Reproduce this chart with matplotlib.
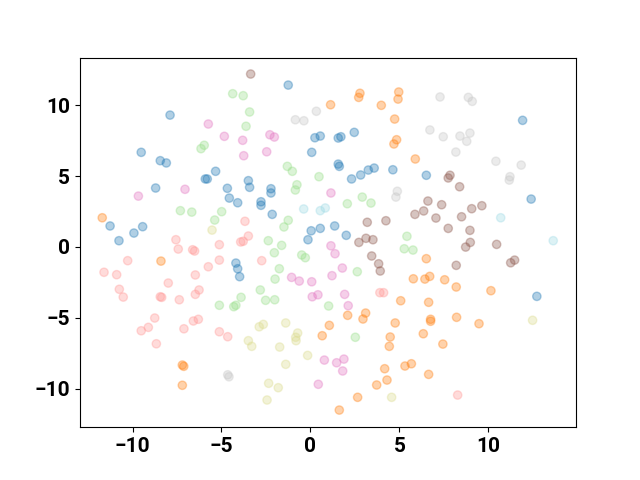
import numpy as np
import matplotlib
matplotlib.use('Agg')
import matplotlib.pyplot as plt

plt.rcParams['font.family'] = ['Roboto', 'DejaVu Sans']
plt.rcParams['font.weight'] = 'bold'

# pontos por grupo
x_blue = [-7.89, -9.51, -8.44, -8.10, -5.33, -5.91, -5.80, -8.70, -4.67, -4.56, -4.09, -11.26,
          -9.43, -9.92, -10.76, -1.25, 0.25, 0.55, 1.56, 1.71, 2.46, 0.07, 1.56, 1.62, 2.31, 2.82,
          3.25, 3.58, 4.63, -3.49, -3.42, -2.22, -2.22, -2.78, -2.78, -2.15, 0.04, 0.55, 1.36,
          -0.14, 2.01, 11.92, 6.51, 12.40, -4.19, -4.09, -3.98, 12.72]
y_blue = [9.31, 6.68, 6.09, 5.93, 5.34, 4.80, 4.80, 4.16, 4.14, 3.45, 3.12, 1.48,
          1.43, 0.98, 0.44, 11.43, 7.71, 7.83, 7.69, 7.78, 8.09, 6.68, 5.85, 5.69, 4.80, 5.08,
          5.43, 5.57, 5.45, 4.68, 4.21, 4.11, 3.81, 3.19, 2.94, 2.30, 1.14, 1.31, 1.48,
          0.51, 0.82, 8.94, 5.06, 3.38, -1.14, -1.54, -2.10, -3.49]

x_orange = [-11.70, 2.78, 2.71, 4.96, 4.92, 1.13, 3.98, 4.73, 4.84, 4.69, 5.89, -8.40, -7.20,
            -7.12, -7.20, 5.78, 5.07, 2.09, 3.10, 2.95, 1.06, 0.66, 4.76, 4.48, 4.43, 4.17, 5.31,
            5.67, 4.30, 3.72, 2.65, 1.62, 6.51, 6.43, 6.70, 7.54, 8.19, 10.14, 6.64, 6.75, 6.75,
            8.21, 9.47, 6.34, 7.44, 6.64]
y_orange = [2.06, 10.85, 10.56, 10.94, 10.44, 10.04, 10.00, 9.03, 7.57, 7.27, 6.21, -1.00, -8.34,
            -8.43, -9.77, -2.25, -3.80, -4.83, -4.67, -5.09, -5.54, -6.27, -5.37, -6.36, -7.02, -8.60, -8.41,
            -8.25, -9.40, -9.75, -10.62, -11.52, -0.83, -2.27, -2.08, -2.32, -2.83, -3.09, -3.91, -5.11, -5.25,
            -4.97, -5.42, -6.13, -6.86, -9.00]

x_green = [-4.37, -3.78, -3.42, -3.62, -5.97, -6.15, -7.31, -6.67, -4.99, -5.38, -1.30, -1.02,
           0.48, -0.76, -0.85, 2.07, 2.91, 3.40, -1.25, -1.49, 5.42, -2.37, -1.62, 5.27, 5.76,
           -2.03, -0.49, -0.29, -1.75, -1.99, -2.82, -2.52, -2.01, 2.63, 1.02, 2.52, -3.90, -5.12,
           -4.31, -4.19]
y_green = [10.82, 10.68, 9.53, 8.52, 7.18, 6.94, 2.56, 2.46, 2.49, 1.90, 5.69, 5.34,
           4.96, 4.39, 4.02, 3.05, 3.52, 3.10, 1.88, 1.41, 0.75, 0.44, 0.11, -0.13, -0.22,
           -0.41, -0.57, -0.76, -1.54, -2.27, -3.04, -3.77, -3.73, -1.75, -4.17, -6.38, -3.56, -4.12,
           -4.22, -4.12]

x_red = [-3.68, -7.56, -3.92, -3.78, -3.49, -5.12, -7.43, -6.62, -6.51, -10.27, -5.12, -5.74,
         -11.60, -10.89, -6.47, -7.99, -10.74, -10.52, -8.44, -8.36, -7.37, -6.26, -6.47, -8.75,
         -9.51, -9.11, -8.66, -7.11, -6.58, -6.30, -5.12, -4.65, -2.74, 3.90, 4.11, 8.27]
y_red = [1.81, 0.51, 0.35, 0.40, 0.77, 0.16, -0.15, -0.20, -0.29, -0.97, -0.93, -1.40,
         -1.79, -1.96, -1.98, -2.55, -2.99, -3.54, -3.52, -3.56, -3.73, -3.04, -3.35, -5.02,
         -5.92, -5.68, -6.84, -5.78, -5.23, -5.11, -5.99, -6.34, -0.97, -3.23, -3.23, -10.46]

x_brown = [-3.36, 3.19, 4.24, 2.72, 3.12, 3.51, 3.44, 3.83, 3.92, 7.84, 7.74, 8.38, 6.60, 7.37,
           6.36, 5.87, 7.05, 8.49, 9.06, 9.63, 7.74, 8.96, 8.98, 8.72, 10.46, 8.19, 11.25, 11.47]
y_brown = [12.21, 1.74, 1.85, 0.32, 0.61, 0.51, -0.64, -1.19, -1.70, 5.06, 4.87, 4.25, 3.24, 2.98,
           2.54, 2.30, 2.04, 2.13, 2.70, 2.91, 1.31, 1.17, 0.32, -0.01, 0.18, -1.30, -1.12, -0.93]

x_pink = [-5.74, -4.84, -3.81, -3.75, -7.05, -9.67, -2.28, -2.03, -2.46, 1.15, 1.15, 1.38, 1.79,
          1.21, -1.06, -0.63, 0.07, 0.10, 0.42, 1.92, 2.12, 0.78, 1.47, 1.88, 1.81, 0.44]
y_pink = [8.68, 7.81, 7.53, 6.44, 4.07, 3.59, 7.92, 7.76, 6.72, 3.81, 0.08, -0.48, -1.49,
          -2.03, -2.15, -2.41, -2.46, -3.52, -3.38, -3.35, -4.15, -7.99, -8.18, -7.92, -8.76, -9.70]

x_gray = [0.33, -0.85, -0.37, 4.88, 4.80, 7.28, 8.87, 9.09, 6.71, 7.46, 8.40, 8.96, 8.78, 8.17,
          10.42, 11.84, 11.21, 11.17, -4.65, -4.58]
y_gray = [9.58, 8.98, 8.91, 3.93, 3.52, 10.59, 10.56, 10.28, 8.26, 7.78, 7.83, 8.04, 7.46, 6.70,
          6.05, 5.78, 4.96, 4.72, -9.03, -9.17]

x_olive = [-5.53, -3.49, -3.30, -1.39, -2.88, -2.65, -0.72, -0.83, -0.81, -1.73, -0.16, -1.39,
           -2.35, -1.81, -2.44, 4.56, 12.48]
y_olive = [1.19, -6.62, -7.02, -5.37, -5.64, -5.47, -6.08, -6.38, -6.62, -7.07, -7.66, -8.29,
           -9.63, -9.94, -10.81, -10.62, -5.18]

x_cyan = [-0.38, 0.55, 0.83, 10.69, 13.64]
y_cyan = [2.68, 2.56, 2.75, 2.06, 0.44]

grupos = [(x_blue, y_blue), (x_orange, y_orange), (x_green, y_green), (x_red, y_red),
          (x_brown, y_brown), (x_pink, y_pink), (x_gray, y_gray), (x_olive, y_olive),
          (x_cyan, y_cyan)]

xs = np.concatenate([g[0] for g in grupos])
ys = np.concatenate([g[1] for g in grupos])
labels = np.concatenate([[i] * len(g[0]) for i, g in enumerate(grupos)])

fig, ax = plt.subplots(figsize=(6.4, 4.8), dpi=100)
ax.scatter(xs, ys, c=labels, cmap='tab20', alpha=0.35)
ax.set_xlim(-12.95, 14.92)
ax.set_ylim(-12.73, 13.37)
ax.set_xticks([-10, -5, 0, 5, 10])
ax.set_yticks([-10, -5, 0, 5, 10])
ax.tick_params(labelsize=15)
for lab in ax.get_xticklabels() + ax.get_yticklabels():
    lab.set_fontweight('bold')

plt.savefig('out.png')
